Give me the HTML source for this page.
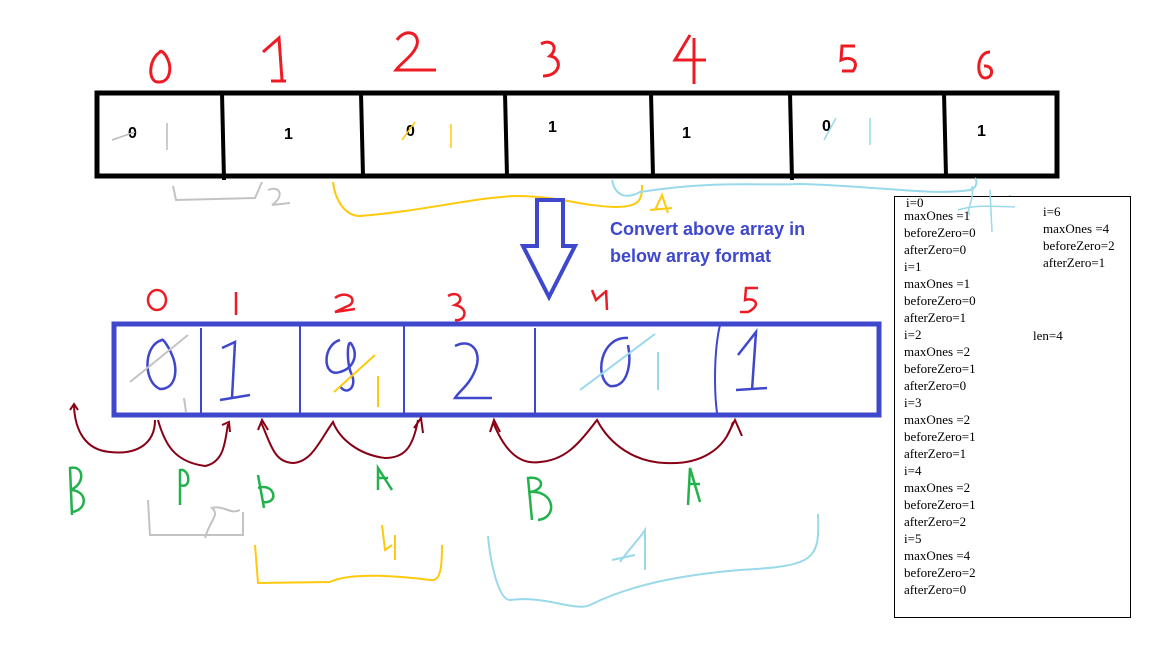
<!DOCTYPE html>
<html><head><meta charset="utf-8"><style>
html,body{margin:0;padding:0;background:#fff;width:1152px;height:648px;overflow:hidden}
svg{display:block}
.mono{font-family:"Liberation Sans",sans-serif}
.ser{font-family:"Liberation Serif",serif;font-size:13px;fill:#000}
</style></head><body>
<svg width="1152" height="648" viewBox="0 0 1152 648">
<g fill="none" stroke="#ed1c24" stroke-width="3">
<path d="M160 52 C148 60 148 82 158 82 C170 83 172 68 168 60 C165 52 160 50 160 52Z"/>
<path d="M263 52 L279 38 L282 80 M271 81 L286 81"/>
<path d="M397 40 C405 28 420 32 417 45 C413 56 402 62 396 70 L436 70"/>
<path d="M541 44 C552 38 559 48 550 56 C563 58 561 76 543 76"/>
<path d="M690 35 L675 60 L706 60 M694 38 L694 84"/>
<path d="M855 46 L842 46 L841 60 C851 55 860 62 853 71 L842 71"/>
<path d="M990 52 C976 52 976 78 985 78 C994 78 994 65 984 66"/>
</g>
<g>
<rect x="97" y="93" width="960" height="83" fill="none" stroke="#000" stroke-width="5"/>
<g stroke="#000" stroke-width="4">
<line x1="222" y1="93" x2="224" y2="180"/><line x1="361" y1="93" x2="363" y2="176"/>
<line x1="505" y1="93" x2="507" y2="176"/><line x1="651" y1="93" x2="653" y2="176"/>
<line x1="790" y1="93" x2="792" y2="180"/><line x1="944" y1="93" x2="946" y2="176"/>
</g>
<g class="mono" font-size="16" font-weight="bold" fill="#000">
<text x="128" y="138">0</text><text x="284" y="139">1</text><text x="406" y="136">0</text>
<text x="548" y="132">1</text><text x="682" y="138">1</text><text x="822" y="131">0</text><text x="977" y="136">1</text>
</g>
<g fill="none" stroke-width="1.5">
<path d="M112 140 L135 132 M167 123 L167 150" stroke="#bbb"/>
<path d="M402 140 L415 122 M451 124 L451 148" stroke="#ffc90e"/>
<path d="M824 140 L836 118 M870 118 L870 145" stroke="#99d9ea"/>
</g>
</g>
<g fill="none" stroke-width="2">
<path d="M173 186 L176 200 L255 198 L262 182 M268 190 C280 185 285 196 272 205 L290 203" stroke="#c3c3c3"/>
<path d="M333 182 C335 200 345 216 360 216 C430 210 470 198 515 196 C560 196 580 206 615 207 C640 207 642 200 642 185 M655 210 L662 195 L668 213 M650 210 L672 208" stroke="#ffc90e"/>
<path d="M612 180 C615 195 625 200 640 192 C720 180 760 186 800 184 C880 186 930 196 970 190 C978 188 977 180 975 178 M1012 205 L995 220 L1018 213 M1010 195 L1010 230" stroke="#99d9ea"/>
</g>
<g fill="none" stroke="#3f48cc" stroke-width="4">
<path d="M537 200 L563 200 L563 246 L575 246 L549 297 L523 246 L537 246 Z"/>
</g>
<g class="mono" font-size="18" font-weight="bold" fill="#3f48cc">
<text x="610" y="235">Convert above array in</text>
<text x="610" y="262">below array format</text>
</g>
<g fill="none" stroke="#ed1c24" stroke-width="2.5">
<ellipse cx="157" cy="300" rx="9" ry="10"/>
<path d="M236 292 L236 315"/>
<path d="M335 298 C345 290 358 298 350 305 L335 312 L355 309"/>
<path d="M448 296 C458 290 466 300 455 305 C470 308 465 322 455 320"/>
<path d="M592 290 L596 300 L605 292 M606 290 L607 310"/>
<path d="M758 288 L746 288 L745 300 C755 297 762 305 748 312 L740 312"/>
</g>
<g>
<rect x="114" y="324" width="765" height="91" fill="none" stroke="#3f48cc" stroke-width="5"/>
<g stroke="#3f48cc" stroke-width="2">
<line x1="201" y1="328" x2="201" y2="413"/><line x1="300" y1="326" x2="300" y2="413"/>
<line x1="404" y1="326" x2="404" y2="413"/><line x1="535" y1="328" x2="535" y2="413"/>
<path d="M720 325 C714 350 714 390 717 413" fill="none"/>
</g>
<g fill="none" stroke="#3f48cc" stroke-width="2.5">
<path d="M162 340 C143 345 143 382 160 389 C177 389 178 368 172 355 C168 345 162 338 162 340Z"/>
<path d="M222 348 L235 342 L232 398 M220 400 L250 395"/>
<path d="M340 340 C322 345 322 378 340 372 C354 368 358 355 352 345 C347 335 346 365 352 375 C357 388 346 396 340 386"/>
<path d="M455 346 C470 338 482 350 476 368 C470 385 460 390 455 398 L492 398"/>
<path d="M628 338 C600 336 594 378 610 386 C627 388 632 365 628 345"/>
<path d="M738 355 L756 332 L752 390 M736 390 L767 388"/>
</g>
<g fill="none" stroke-width="2">
<path d="M130 382 L188 335 M184 398 L186 412" stroke="#c3c3c3"/>
<path d="M334 392 L375 355 M378 376 L378 407" stroke="#ffc90e"/>
<path d="M580 390 L655 334 M658 352 L658 390" stroke="#99d9ea"/>
</g>
</g>
<g fill="none" stroke="#880015" stroke-width="2">
<path d="M155 420 C155 445 135 455 110 452 C85 450 75 430 74 406 M70 410 L74 404 L78 410"/>
<path d="M158 420 C165 445 175 462 205 466 C225 462 225 440 228 424 M222 425 L229 422 L230 432"/>
<path d="M261 422 C272 448 275 462 293 463 C312 462 320 440 333 422 C340 440 360 455 385 458 C405 458 413 447 418 420 M258 430 L262 420 L268 430 M414 428 L421 418 L423 433"/>
<path d="M493 422 C505 452 520 465 540 462 C565 460 578 445 597 420 C610 445 635 462 665 463 C700 465 725 450 733 422 M490 432 L494 420 L500 432 M727 436 L735 420 L742 436"/>
</g>
<g fill="none" stroke="#22b14c" stroke-width="2.5">
<path d="M72 515 L70 468 C85 465 85 485 70 490 C88 490 88 510 72 512"/>
<path d="M180 505 L180 470 C190 468 192 490 180 485"/>
<path d="M264 508 L258 475 M258 488 C275 482 280 505 262 502"/>
<path d="M378 490 L378 468 L392 490 M378 478 L388 478"/>
<path d="M532 520 L528 478 C545 476 545 490 530 492 C555 490 558 518 538 520"/>
<path d="M688 505 L690 468 L700 502 M688 484 L700 484"/>
</g>
<g fill="none" stroke-width="2">
<path d="M148 500 L150 535 L243 535 L243 512 M205 538 C210 520 220 515 212 508 C225 505 230 515 240 510" stroke="#c3c3c3"/>
<path d="M255 545 L258 583 L330 582 C350 572 400 576 430 580 C440 582 442 570 442 545 M382 525 L385 550 L392 545 M395 535 L395 560" stroke="#ffc90e"/>
<path d="M488 536 C490 560 498 600 510 600 C545 595 575 612 590 605 C630 585 680 575 740 570 C815 566 820 560 818 514 M620 562 C630 548 640 538 645 530 L645 570 M612 560 L635 555" stroke="#99d9ea"/>
</g>
<g>
<rect x="894.5" y="196.5" width="236" height="421" fill="#fff" stroke="#000" stroke-width="1"/>
<path d="M972 186 C975 200 965 210 970 215 M958 210 C975 205 990 206 1015 207 M990 190 L992 232" fill="none" stroke="#99d9ea" stroke-width="1.5"/>
<g class="ser">
<text x="906" y="207">i=0</text>
<text x="904" y="220">maxOnes =1</text>
<text x="904" y="237">beforeZero=0</text>
<text x="904" y="254">afterZero=0</text>
<text x="904" y="271">i=1</text>
<text x="904" y="288">maxOnes =1</text>
<text x="904" y="305">beforeZero=0</text>
<text x="904" y="322">afterZero=1</text>
<text x="904" y="339">i=2</text>
<text x="904" y="356">maxOnes =2</text>
<text x="904" y="373">beforeZero=1</text>
<text x="904" y="390">afterZero=0</text>
<text x="904" y="407">i=3</text>
<text x="904" y="424">maxOnes =2</text>
<text x="904" y="441">beforeZero=1</text>
<text x="904" y="458">afterZero=1</text>
<text x="904" y="475">i=4</text>
<text x="904" y="492">maxOnes =2</text>
<text x="904" y="509">beforeZero=1</text>
<text x="904" y="526">afterZero=2</text>
<text x="904" y="543">i=5</text>
<text x="904" y="560">maxOnes =4</text>
<text x="904" y="577">beforeZero=2</text>
<text x="904" y="594">afterZero=0</text>
</g>
<g class="ser">
<text x="1043" y="216">i=6</text>
<text x="1043" y="233">maxOnes =4</text>
<text x="1043" y="250">beforeZero=2</text>
<text x="1043" y="267">afterZero=1</text>
<text x="1033" y="340">len=4</text>
</g>
</g>
</svg>
</body></html>
